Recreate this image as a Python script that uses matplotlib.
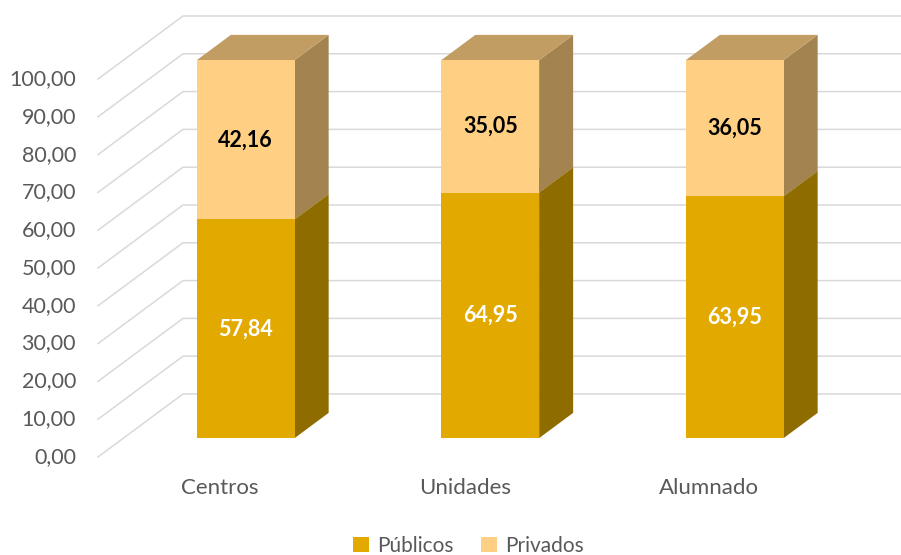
import matplotlib
matplotlib.use("Agg")
import matplotlib.pyplot as plt
from matplotlib.patches import Polygon

categories = ["Centros", "Unidades", "Alumnado"]
publicos = [57.84, 64.95, 63.95]
privados = [42.16, 35.05, 36.05]
series_names = ["Públicos", "Privados"]
yticks = [0, 10, 20, 30, 40, 50, 60, 70, 80, 90, 100]

# face colours per series: front, side, top
colors = {
    "Públicos": ("#E2AA00", "#8F6C00", "#B08800"),
    "Privados": ("#FFD083", "#A3834F", "#C29D63"),
}

# oblique projection: full floor depth shifts by (DX, DY) in data units
DX, DY = 0.3477, 16.67
BAR_W = 0.40
D_FRONT, D_BACK = 0.3, 0.7
FONT = "Lato"
GRAY = "#595959"


def proj(x, y, d):
    return (x + DX * d, y + DY * d)


fig = plt.figure(figsize=(9.01, 5.55), dpi=100)
ax = fig.add_axes([0, 0, 1, 1])
ax.set_xlim(-0.9008, 2.7843)
ax.set_ylim(-25.93, 120.9)
ax.axis("off")

# grid: diagonal on the left wall, horizontal on the back wall
x_left = -0.5
for v in yticks:
    x0, y0 = proj(x_left, v, 0)
    x1, y1 = proj(x_left, v, 1)
    ax.plot([x0, x1, 3.5], [y0, y1, y1], color="#D9D9D9", lw=1.1,
            solid_joinstyle="miter", zorder=1)
    ax.text(x0 - 0.09, y0, f"{v:.2f}".replace(".", ","), ha="right",
            va="center", fontsize=15.5, color=GRAY, family=FONT)

for i, cat in enumerate(categories):
    xl = i - BAR_W / 2
    xr = i + BAR_W / 2
    base = 0
    for name, vals in zip(series_names, [publicos, privados]):
        v = vals[i]
        top = base + v
        front_c, side_c, top_c = colors[name]
        side = [proj(xr, base, D_FRONT), proj(xr, base, D_BACK),
                proj(xr, top, D_BACK), proj(xr, top, D_FRONT)]
        front = [proj(xl, base, D_FRONT), proj(xr, base, D_FRONT),
                 proj(xr, top, D_FRONT), proj(xl, top, D_FRONT)]
        lid = [proj(xl, top, D_FRONT), proj(xr, top, D_FRONT),
               proj(xr, top, D_BACK), proj(xl, top, D_BACK)]
        ax.add_patch(Polygon(side, closed=True, fc=side_c, ec="none", zorder=2))
        ax.add_patch(Polygon(lid, closed=True, fc=top_c, ec="none", zorder=2))
        ax.add_patch(Polygon(front, closed=True, fc=front_c, ec="none", zorder=3))
        cx, cy = proj(i, base + v / 2, D_FRONT)
        ax.text(cx, cy, f"{v:.2f}".replace(".", ","), ha="center", va="center",
                fontsize=15.5, fontweight="bold", family=FONT,
                color="white" if name == "Públicos" else "black", zorder=4)
        base = top
    lx, ly = proj(i, 0, 0)
    ax.text(lx, ly - 8.2, cat, ha="center", va="center", fontsize=16,
            color=GRAY, family=FONT)

handles = [plt.Rectangle((0, 0), 1, 1, fc=colors[n][0], ec="none")
           for n in series_names]
fig.legend(handles, series_names, loc="center", bbox_to_anchor=(0.52, 0.016),
           ncol=2, frameon=False, handlelength=0.75, handleheight=0.75,
           handletextpad=0.4, columnspacing=1.3,
           labelcolor=GRAY, prop={"family": FONT, "size": 15})

fig.savefig("out.png", dpi=100)
